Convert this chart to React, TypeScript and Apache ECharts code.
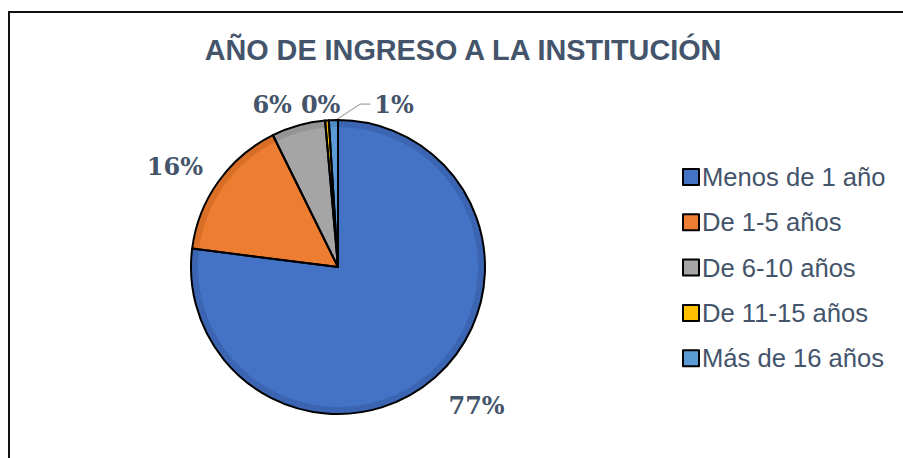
import React, { useEffect, useRef } from "react";
import * as echarts from "echarts";

const title = "AÑO DE INGRESO A LA INSTITUCIÓN";
const categories = ["Menos de 1 año", "De 1-5 años", "De 6-10 años", "De 11-15 años", "Más de 16 años"];
const percentages = [77.0, 15.7, 5.9, 0.4, 1.0];
const sliceColors = ["#4472C4", "#ED7D31", "#A5A5A5", "#FFC000", "#5B9BD5"];
const rimColors = ["#3B65B2", "#D96E27", "#959595", "#E8AE00", "#4F8BC3"];
// label nudges [dx, dy] relative to ECharts' outside position
const labelOffsets: [number, number][] = [
  [-5, 13],
  [6, -4],
  [4, -2],
  [20, 4],
  [86, 4],
];
const showLeader = [false, false, false, false, true];

export default function App() {
  const ref = useRef<HTMLDivElement>(null);
  useEffect(() => {
    if (!ref.current) return;
    const chart = echarts.init(ref.current, undefined, { renderer: "svg" });
    const center = [338, 267];
    const R = 147;
    const base = {
      type: "pie",
      center,
      startAngle: 90,
      clockwise: true,
      avoidLabelOverlap: false,
      emphasis: { disabled: true },
    };
    chart.setOption({
      animation: false,
      backgroundColor: "#ffffff",
      title: {
        text: title,
        left: 458,
        top: 30,
        textAlign: "center",
        textStyle: {
          fontFamily: "Liberation Sans",
          fontWeight: "bold",
          fontSize: 28.8,
          color: "#44546A",
        },
      },
      legend: {
        orient: "vertical",
        left: 677,
        top: 159,
        itemWidth: 16,
        itemHeight: 16,
        itemGap: 19.3,
        icon: "rect",
        textStyle: {
          fontFamily: "Liberation Sans",
          fontSize: 25.6,
          color: "#44546A",
          padding: [0, 0, 0, -2],
        },
        itemStyle: { borderColor: "#000", borderWidth: 2 },
        data: categories,
      },
      graphic: [
        {
          type: "rect",
          shape: { x: 9, y: 12, width: 1200, height: 1000 },
          style: { fill: "none", stroke: "#111", lineWidth: 2 },
          silent: true,
        },
      ],
      series: [
        {
          ...base,
          name: "fill",
          radius: [0, R],
          z: 1,
          silent: true,
          label: { show: false },
          labelLine: { show: false },
          data: categories.map((name, i) => ({
            name,
            value: percentages[i],
            itemStyle: { color: sliceColors[i] },
          })),
        },
        {
          ...base,
          name: "rim",
          radius: [R - 7, R],
          z: 2,
          silent: true,
          label: { show: false },
          labelLine: { show: false },
          data: categories.map((name, i) => ({
            name,
            value: percentages[i],
            itemStyle: { color: rimColors[i] },
          })),
        },
        {
          ...base,
          name: "outline",
          radius: [0, R],
          z: 3,
          itemStyle: { color: "rgba(0,0,0,0)", borderColor: "#000", borderWidth: 2 },
          label: {
            show: true,
            position: "outside",
            formatter: (p: any) => Math.round(p.value) + "%",
            fontFamily: "DejaVu Serif",
            fontWeight: "bold",
            fontSize: 24,
            color: "#44546A",
          },
          labelLine: {
            show: false,
            length: 20,
            length2: 0,
            lineStyle: { color: "#A6A6A6", width: 1.2 },
          },
          labelLayout: (params: any) => {
            const i = params.dataIndex;
            const o = labelOffsets[i];
            const res: any = { dx: o[0], dy: o[1] };
            if (showLeader[i]) {
              const lr = params.labelRect;
              const sr = params.rect;
              const endX = lr.x + o[0] - 4;
              const endY = lr.y + lr.height / 2 + o[1];
              res.labelLinePoints = [
                [sr.x + sr.width / 2 + 1, sr.y + 2],
                [endX - 10, endY],
                [endX, endY],
              ];
            }
            return res;
          },
          data: categories.map((name, i) => ({
            name,
            value: percentages[i],
            labelLine: { show: showLeader[i] },
          })),
        },
      ],
    });
    return () => chart.dispose();
  }, []);
  return (
    <div
      ref={ref}
      style={{ position: "absolute", left: 0, top: 0, width: 903, height: 458 }}
    />
  );
}
